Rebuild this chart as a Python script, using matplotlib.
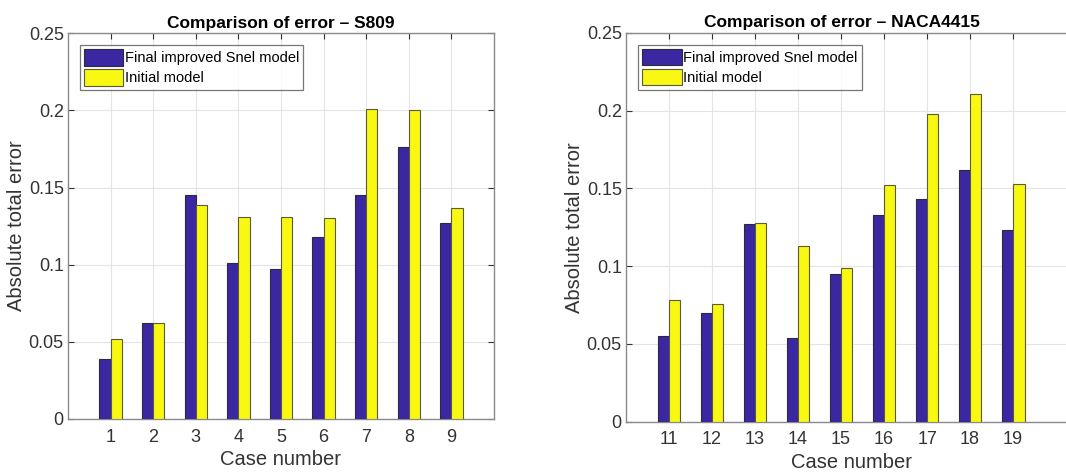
import numpy as np
import matplotlib

matplotlib.use("Agg")
import matplotlib.pyplot as plt

plt.rcParams["font.family"] = ["Liberation Sans", "DejaVu Sans"]

# absolute total error per test case
s809_cases = [1, 2, 3, 4, 5, 6, 7, 8, 9]
s809_final = [0.039, 0.062, 0.145, 0.101, 0.097, 0.118, 0.145, 0.176, 0.127]
s809_initial = [0.052, 0.062, 0.139, 0.131, 0.131, 0.130, 0.201, 0.200, 0.137]

naca_cases = [11, 12, 13, 14, 15, 16, 17, 18, 19]
naca_final = [0.055, 0.070, 0.127, 0.054, 0.095, 0.133, 0.143, 0.162, 0.123]
naca_initial = [0.078, 0.076, 0.128, 0.113, 0.099, 0.152, 0.198, 0.211, 0.153]

yticks = [0, 0.05, 0.1, 0.15, 0.2, 0.25]
ytick_labels = ["0", "0.05", "0.1", "0.15", "0.2", "0.25"]

BLUE = "#3b27a2"
YELLOW = "#f8f812"
BAR_W = 0.265


def draw_panel(ax, cases, final, initial, title, xlim, title_x=0.5):
    x = np.array(cases, dtype=float)
    ax.bar(x - BAR_W / 2, final, BAR_W, color=BLUE, edgecolor="#2a2a3a",
           linewidth=0.8, label="Final improved Snel model", zorder=3)
    ax.bar(x + BAR_W / 2, initial, BAR_W, color=YELLOW, edgecolor="#5a5a40",
           linewidth=0.8, label="Initial model", zorder=3)
    ax.set_xlim(*xlim)
    ax.set_ylim(0, 0.25)
    ax.set_xticks(cases, [str(c) for c in cases])
    ax.set_yticks(yticks, ytick_labels)
    ax.grid(True, color="#e4e4e4", linewidth=0.8, zorder=0)
    ax.tick_params(direction="in", top=True, right=True, length=4,
                   labelsize=13, colors="#333333", width=0.8)
    ax.tick_params(axis="x", pad=7)
    ax.tick_params(axis="y", pad=3)
    for sp in ax.spines.values():
        sp.set_color("#8a8a8a")
        sp.set_linewidth(1.0)
    ax.set_title(title, fontsize=12.5, fontweight="bold", pad=4, x=title_x)
    ax.set_xlabel("Case number", fontsize=14.5, color="#333333", labelpad=3)
    ax.set_ylabel("Absolute total error", fontsize=14.5, color="#333333", labelpad=2)
    leg = ax.legend(loc="upper left", bbox_to_anchor=(0.027, 0.97),
                    fontsize=10.5, frameon=True, fancybox=False,
                    handlelength=2.7, handleheight=1.35, handletextpad=0.1,
                    borderpad=0.3, labelspacing=0.25, borderaxespad=0)
    leg.get_frame().set_edgecolor("#555555")
    leg.get_frame().set_linewidth(0.9)


fig = plt.figure(figsize=(10.66, 4.76), dpi=100)
ax1 = fig.add_axes([0.0638, 0.12, 0.3996, 0.81])
ax2 = fig.add_axes([0.5872, 0.114, 0.4225, 0.817])

draw_panel(ax1, s809_cases, s809_final, s809_initial,
           "Comparison of error \u2013 S809", (0, 10))
draw_panel(ax2, naca_cases, naca_final, naca_initial,
           "Comparison of error \u2013 NACA4415", (10, 20.47), title_x=0.48)

fig.savefig("out.png", dpi=100)
